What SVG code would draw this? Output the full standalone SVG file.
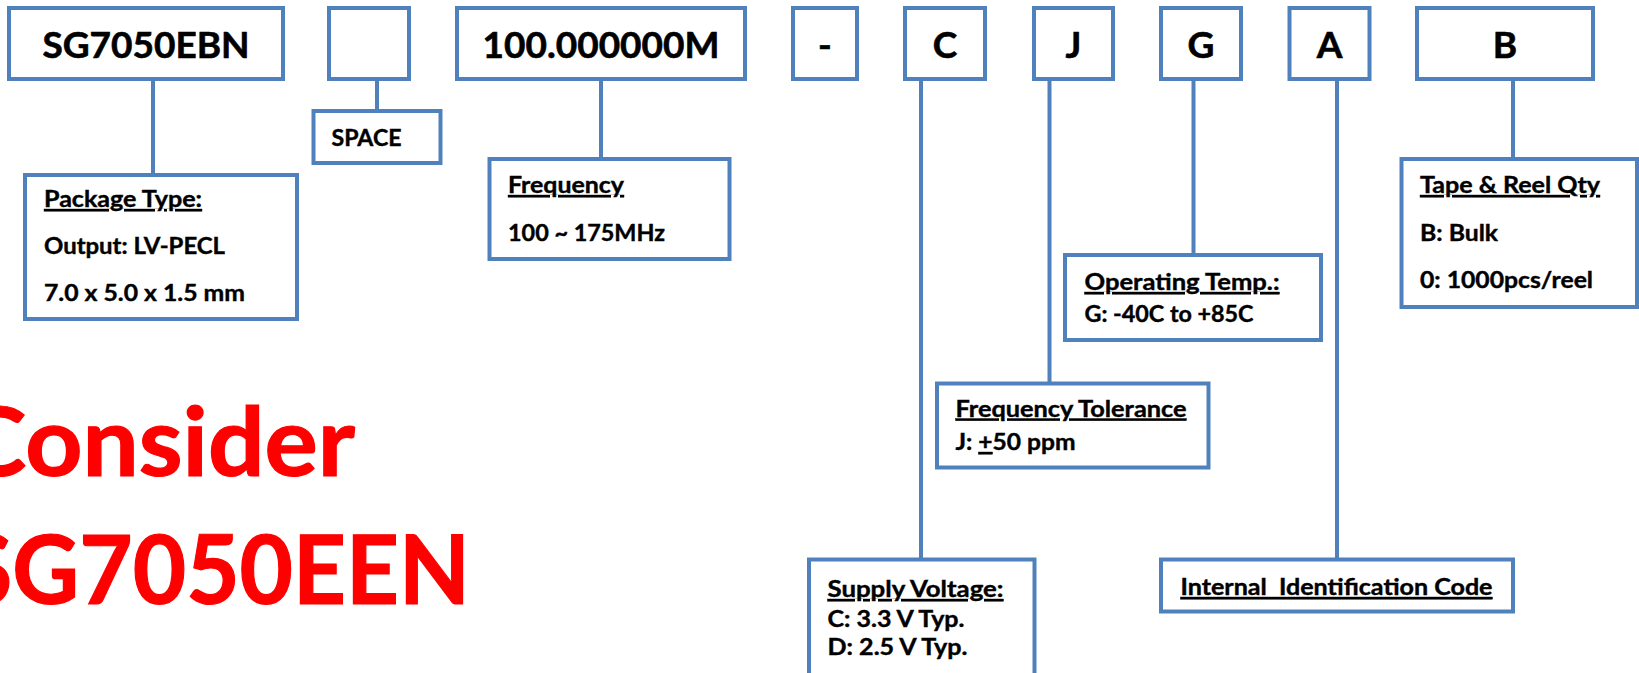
<svg xmlns="http://www.w3.org/2000/svg" width="1639" height="673" viewBox="0 0 1639 673">
<style>
.box{fill:#fff;stroke:#4F81BD;stroke-width:4}
.conn{stroke:#4F81BD;stroke-width:4;fill:none}
.big{font-family:Lato,"Liberation Sans",sans-serif;font-weight:700;font-size:37px;fill:#000;stroke:#000;stroke-width:0.6;text-anchor:middle}
.lbl{font-family:Lato,"Liberation Sans",sans-serif;font-weight:700;font-size:22.5px;fill:#000;stroke:#000;stroke-width:0.4}
.u{text-decoration:underline}
.red{font-family:Lato,"Liberation Sans",sans-serif;font-weight:700;font-size:95px;fill:#FF0000;stroke:#FF0000;stroke-width:1.2;text-anchor:end}
</style>
<rect width="1639" height="673" fill="#fff"/>
<g id="connectors">
<line class="conn" x1="153" y1="79" x2="153" y2="175"/>
<line class="conn" x1="377" y1="79" x2="377" y2="111"/>
<line class="conn" x1="601" y1="79" x2="601" y2="159"/>
<line class="conn" x1="921" y1="79" x2="921" y2="559.5"/>
<line class="conn" x1="1049.5" y1="79" x2="1049.5" y2="383.5"/>
<line class="conn" x1="1193.5" y1="79" x2="1193.5" y2="255"/>
<line class="conn" x1="1337" y1="79" x2="1337" y2="559.5"/>
<line class="conn" x1="1513" y1="79" x2="1513" y2="159"/>
</g>
<g id="n-model"><rect class="box" x="9" y="8" width="274" height="71"/><text class="big" x="146" y="58">SG7050EBN</text></g>
<g id="n-blank"><rect class="box" x="329" y="8" width="80" height="71"/></g>
<g id="n-freq"><rect class="box" x="457" y="8" width="288" height="71"/><text class="big" x="601" y="58">100.000000M</text></g>
<g id="n-dash"><rect class="box" x="793" y="8" width="64" height="71"/><text class="big" x="825" y="58">-</text></g>
<g id="n-c"><rect class="box" x="905" y="8" width="80" height="71"/><text class="big" x="945" y="58">C</text></g>
<g id="n-j"><rect class="box" x="1034" y="8" width="79" height="71"/><text class="big" x="1073.5" y="58">J</text></g>
<g id="n-g"><rect class="box" x="1161" y="8" width="80" height="71"/><text class="big" x="1201" y="58">G</text></g>
<g id="n-a"><rect class="box" x="1289.5" y="8" width="80" height="71"/><text class="big" x="1329.5" y="58">A</text></g>
<g id="n-b"><rect class="box" x="1417" y="8" width="176" height="71"/><text class="big" x="1505" y="58">B</text></g>

<g id="d-package"><rect class="box" x="25" y="175" width="272" height="144"/>
<text class="lbl u" x="44" y="207" textLength="158" lengthAdjust="spacingAndGlyphs">Package Type:</text>
<text class="lbl" x="44" y="254" textLength="181" lengthAdjust="spacingAndGlyphs">Output: LV-PECL</text>
<text class="lbl" x="44" y="301" textLength="201" lengthAdjust="spacingAndGlyphs">7.0 x 5.0 x 1.5 mm</text></g>
<g id="d-space"><rect class="box" x="313.5" y="111" width="127" height="52"/>
<text class="lbl" x="331.5" y="146" textLength="70" lengthAdjust="spacingAndGlyphs">SPACE</text></g>
<g id="d-frequency"><rect class="box" x="489.5" y="159" width="240" height="100"/>
<text class="lbl u" x="508" y="193" textLength="116" lengthAdjust="spacingAndGlyphs">Frequency</text>
<text class="lbl" x="508" y="241" textLength="157" lengthAdjust="spacingAndGlyphs">100 ~ 175MHz</text></g>
<g id="d-temp"><rect class="box" x="1065" y="255" width="256" height="85"/>
<text class="lbl u" x="1084.5" y="290" textLength="195" lengthAdjust="spacingAndGlyphs">Operating Temp.:</text>
<text class="lbl" x="1084.5" y="321.5" textLength="169" lengthAdjust="spacingAndGlyphs">G: -40C to +85C</text></g>
<g id="d-tolerance"><rect class="box" x="937" y="383.5" width="271.5" height="84"/>
<text class="lbl u" x="955.5" y="416.5" textLength="231" lengthAdjust="spacingAndGlyphs">Frequency Tolerance</text>
<text class="lbl" x="955.5" y="450" textLength="120" lengthAdjust="spacingAndGlyphs">J: <tspan class="u">+</tspan>50 ppm</text></g>
<g id="d-supply"><rect class="box" x="809" y="559.5" width="225.5" height="130"/>
<text class="lbl u" x="827.5" y="597" textLength="176" lengthAdjust="spacingAndGlyphs">Supply Voltage:</text>
<text class="lbl" x="827.5" y="627" textLength="137" lengthAdjust="spacingAndGlyphs">C: 3.3 V Typ.</text>
<text class="lbl" x="827.5" y="655" textLength="140" lengthAdjust="spacingAndGlyphs">D: 2.5 V Typ.</text></g>
<g id="d-internal"><rect class="box" x="1161" y="559.5" width="352" height="52"/>
<text class="lbl u" x="1180.5" y="595" xml:space="preserve" textLength="312" lengthAdjust="spacingAndGlyphs">Internal  Identification Code</text></g>
<g id="d-tape"><rect class="box" x="1401.5" y="159" width="235.5" height="148"/>
<text class="lbl u" x="1420" y="193" textLength="180" lengthAdjust="spacingAndGlyphs">Tape &amp; Reel Qty</text>
<text class="lbl" x="1420" y="241" textLength="78" lengthAdjust="spacingAndGlyphs">B: Bulk</text>
<text class="lbl" x="1420" y="288" textLength="173" lengthAdjust="spacingAndGlyphs">0: 1000pcs/reel</text></g>

<g id="note">
<text class="red" transform="translate(355,476) scale(1.05,1)" x="0" y="0">Consider</text>
<text class="red" transform="translate(470,604) scale(0.97,1)" x="0" y="0">SG7050EEN</text>
</g>
</svg>
